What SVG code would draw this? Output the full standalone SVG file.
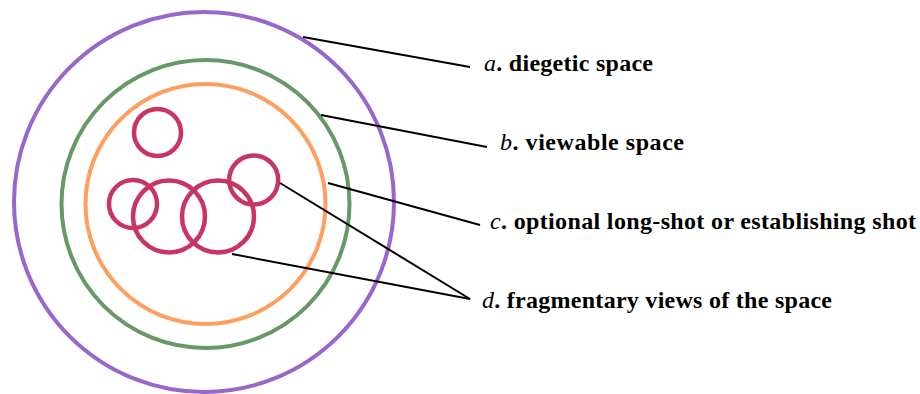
<svg xmlns="http://www.w3.org/2000/svg" width="920" height="394" viewBox="0 0 920 394">
<style>
.ring{fill:none;stroke-width:4}
.frag{fill:none;stroke:#c93563;stroke-width:4.5}
.lead{stroke:#000;stroke-width:2;fill:none}
text{font-family:"Liberation Serif","DejaVu Serif",serif;font-size:24px;fill:#000;font-weight:bold}
.it{font-style:italic;font-weight:normal}
</style>
<rect width="920" height="394" fill="#fff"/>
<g id="diegetic"><circle class="ring" cx="204" cy="202" r="190" stroke="#9966cc"/></g>
<g id="viewable"><circle class="ring" cx="205.5" cy="204" r="144" stroke="#669966"/></g>
<g id="longshot"><circle class="ring" cx="205.5" cy="204" r="120" stroke="#ff9f5f"/></g>
<g id="fragments">
<circle class="frag" cx="157.5" cy="132.5" r="23.5"/>
<circle class="frag" cx="133" cy="204" r="24"/>
<circle class="frag" cx="169" cy="216.5" r="36"/>
<circle class="frag" cx="218" cy="216.5" r="36"/>
<circle class="frag" cx="253.7" cy="180" r="24.5"/>
</g>
<g id="connectors">
<line class="lead" x1="303" y1="37" x2="470" y2="67"/>
<line class="lead" x1="321" y1="115" x2="487" y2="147"/>
<line class="lead" x1="328" y1="183" x2="480" y2="225"/>
<line class="lead" x1="280" y1="183" x2="470" y2="299"/>
<line class="lead" x1="232" y1="254" x2="470" y2="299"/>
</g>
<g id="label-a"><text x="484" y="71" textLength="169"><tspan class="it">a</tspan>. diegetic space</text></g>
<g id="label-b"><text x="500" y="150" textLength="184"><tspan class="it">b</tspan>. viewable space</text></g>
<g id="label-c"><text x="490" y="229" textLength="426"><tspan class="it">c</tspan>. optional long-shot or establishing shot</text></g>
<g id="label-d"><text x="482" y="308" textLength="350"><tspan class="it">d</tspan>. fragmentary views of the space</text></g>
</svg>
